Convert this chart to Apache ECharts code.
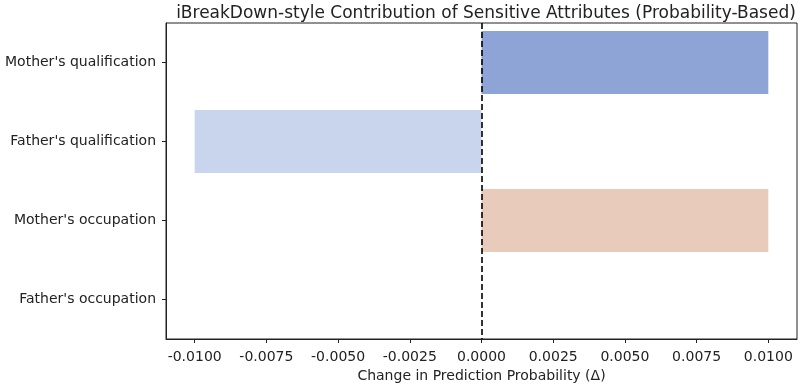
<!DOCTYPE html>
<html><head><meta charset="utf-8">
<script src="https://cdn.jsdelivr.net/npm/echarts@6/dist/echarts.min.js"></script>
<style>html,body{margin:0;padding:0;background:#fff}#c{width:800px;height:384px}</style>
</head><body><div id="c"></div>
<script>
const categories = ["Mother's qualification", "Father's qualification", "Mother's occupation", "Father's occupation"];
const contributions = [0.01, -0.01, 0.01, 0.0];
const barColors = ["#8fa4d6", "#c8d5ec", "#e8cbbb", "#f2b59c"];
const xTicks = [-0.01, -0.0075, -0.005, -0.0025, 0, 0.0025, 0.005, 0.0075, 0.01];
const title = "iBreakDown-style Contribution of Sensitive Attributes (Probability-Based)";
const xName = "Change in Prediction Probability (\u0394)";

const font = "DejaVu Sans";
const chart = echarts.init(document.getElementById('c'));
chart.setOption({
  animation: false,
  backgroundColor: '#fff',
  title: {
    text: title, left: 481, top: 0, textAlign: 'center',
    textStyle: { fontFamily: font, fontSize: 17, fontWeight: 'normal', color: '#222' }
  },
  grid: { left: 166, right: 3, top: 23, bottom: 45, outerBoundsMode: 'none', containLabel: false,
    show: true, borderColor: '#222', borderWidth: 1, backgroundColor: 'transparent' },
  xAxis: {
    type: 'value', min: -0.011, max: 0.011,
    name: xName, nameLocation: 'middle', nameGap: 28,
    nameTextStyle: { fontFamily: font, fontSize: 14, color: '#222' },
    axisLine: { show: true, onZero: false, lineStyle: { color: '#222' } },
    axisTick: { show: true, length: 4, lineStyle: { color: '#222' }, customValues: xTicks },
    axisLabel: { fontFamily: font, fontSize: 14, color: '#222', margin: 11, customValues: xTicks,
      formatter: v => v.toFixed(4) },
    splitLine: { show: false }
  },
  yAxis: {
    type: 'category', data: categories, inverse: true,
    axisLine: { show: true, onZero: false, lineStyle: { color: '#222' } },
    axisTick: { show: true, alignWithLabel: true, length: 4, lineStyle: { color: '#222' } },
    axisLabel: { fontFamily: font, fontSize: 14, color: '#222', margin: 10 },
    splitLine: { show: false }
  },
  series: [{
    type: 'bar', barWidth: '80%',
    data: contributions.map((v, i) => ({ value: v, itemStyle: { color: barColors[i] } })),
    markLine: {
      silent: true, symbol: 'none', label: { show: false },
      lineStyle: { color: '#000', type: [6, 3], width: 1.6 },
      data: [{ xAxis: 0 }]
    }
  }]
});
</script></body></html>
